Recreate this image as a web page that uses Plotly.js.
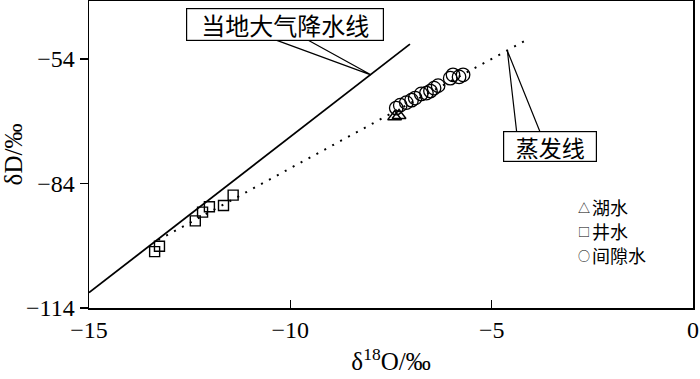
<!DOCTYPE html>
<html>
<head>
<meta charset="utf-8">
<script src="https://cdn.plot.ly/plotly-3.0.1.min.js"></script>
<style>html,body{margin:0;padding:0;background:#fff;}#chart{width:700px;height:379px;}</style>
</head>
<body>
<div id="chart"></div>
<script>
// ---- data ----
var seriesNames = ['湖水', '井水', '间隙水'];
var lineNames = ['当地大气降水线', '蒸发线'];

var lakeX = [-7.41, -7.30];
var lakeY = [-67.9, -67.6];

var wellX = [-13.37, -13.25, -12.36, -12.18, -12.01, -11.66, -11.42];
var wellY = [-100.4, -99.1, -93.0, -90.9, -89.6, -89.3, -86.8];

var poreX = [-7.37, -7.27, -7.12, -6.99, -6.90, -6.75, -6.62, -6.52, -6.43, -6.33, -6.03, -5.96, -5.81, -5.71];
var poreY = [-65.8, -65.1, -64.5, -63.9, -63.4, -62.4, -62.2, -61.7, -61.0, -60.4, -58.6, -57.8, -58.3, -57.8];

var lmwlX = [-15, -7.03];
var lmwlY = [-110.3, -50.4];

var evapX = [-13.28, -4.06];
var evapY = [-97.6, -49.0];

var xTicks = [-15, -10, -5, 0];
var yTicks = [-114, -84, -54];

// ---- chart ----
var serif = 'Liberation Serif, Times New Roman, serif';
var cjk = 'Noto Sans CJK SC, sans-serif';

var traces = [
  {x: lmwlX, y: lmwlY, mode: 'lines', name: lineNames[0], line: {color: '#000', width: 1.8}, showlegend: false, hoverinfo: 'skip'},
  {x: evapX, y: evapY, mode: 'lines', name: lineNames[1], line: {color: '#000', width: 2, dash: '2px,7px'}, showlegend: false, hoverinfo: 'skip'},
  {x: wellX, y: wellY, mode: 'markers', name: seriesNames[1], marker: {symbol: 'square-open', size: 10, color: '#000', line: {width: 1.4, color: '#000'}}, showlegend: false},
  {x: poreX, y: poreY, mode: 'markers', name: seriesNames[2], marker: {symbol: 'circle-open', size: 13.5, color: '#000', line: {width: 1.3, color: '#000'}}, showlegend: false},
  {x: lakeX, y: lakeY, mode: 'markers', name: seriesNames[0], marker: {symbol: 'triangle-up-open', size: 12, color: '#000', line: {width: 1.4, color: '#000'}}, showlegend: false}
];

var legendSymbols = ['△', '□', '○'];
var legendRowsY = [0.3289, 0.2500, 0.1711];
var annotations = [
  {x: -10.13, y: -45.6, xref: 'x', yref: 'y', text: lineNames[0], showarrow: false,
   font: {family: cjk, size: 24, color: '#000'}, bgcolor: '#fff', bordercolor: '#000', borderwidth: 1.2,
   borderpad: 2, width: 192, height: 27},
  {x: -3.55, y: -75.1, xref: 'x', yref: 'y', text: lineNames[1], showarrow: false,
   font: {family: cjk, size: 23, color: '#000'}, bgcolor: '#fff', bordercolor: '#000', borderwidth: 1.2,
   borderpad: 2, width: 88, height: 25}
];
for (var i = 0; i < seriesNames.length; i++) {
  annotations.push({
    xref: 'paper', yref: 'paper', x: 0.8188, y: legendRowsY[i], xanchor: 'center', yanchor: 'middle',
    showarrow: false, text: legendSymbols[i],
    font: {family: cjk, size: 12, color: '#000'}
  });
  annotations.push({
    xref: 'paper', yref: 'paper', x: 0.8290, y: legendRowsY[i], xanchor: 'left', yanchor: 'middle',
    showarrow: false, text: seriesNames[i],
    font: {family: cjk, size: 18, color: '#000'}
  });
}

var layout = {
  width: 700, height: 379,
  margin: {l: 89, r: 7, t: 1, b: 71, pad: 0},
  paper_bgcolor: '#fff', plot_bgcolor: '#fff',
  showlegend: false,
  xaxis: {
    range: [-15, 0], tickvals: xTicks, ticktext: xTicks.map(function (v) { return v < 0 ? '\u2212' + Math.abs(v) : String(v); }),
    ticks: 'inside', ticklen: 8, tickwidth: 1.3, tickcolor: '#000', ticklabeloverflow: 'allow',
    showline: true, linecolor: '#000', linewidth: 1.5, mirror: true,
    showgrid: false, zeroline: false,
    tickfont: {family: serif, size: 24, color: '#000'},
    title: {text: 'δ<sup>18</sup>O/‰', font: {family: serif, size: 25, color: '#000'}, standoff: 10}
  },
  yaxis: {
    range: [-114, -40], tickvals: yTicks, ticktext: yTicks.map(function (v) { return '\u2212' + Math.abs(v); }),
    ticks: 'outside', ticklen: 8, tickwidth: 1.3, tickcolor: '#000',
    showline: true, linecolor: '#000', linewidth: 1.5, mirror: true,
    showgrid: false, zeroline: false,
    tickfont: {family: serif, size: 24, color: '#000'},
    title: {text: 'δD/‰', font: {family: serif, size: 25, color: '#000'}, standoff: 4}
  },
  shapes: [
    {type: 'path', xref: 'x', yref: 'y', path: 'M -10.42,-49.2 L -8.0,-57.8 L -9.60,-49.2', line: {color: '#000', width: 1.2}},
    {type: 'path', xref: 'x', yref: 'y', path: 'M -4.38,-71.5 L -4.61,-52.0 L -3.80,-71.5', line: {color: '#000', width: 1.2}}
  ],
  annotations: annotations
};

Plotly.newPlot('chart', traces, layout, {staticPlot: true, displayModeBar: false});
</script>
</body>
</html>
